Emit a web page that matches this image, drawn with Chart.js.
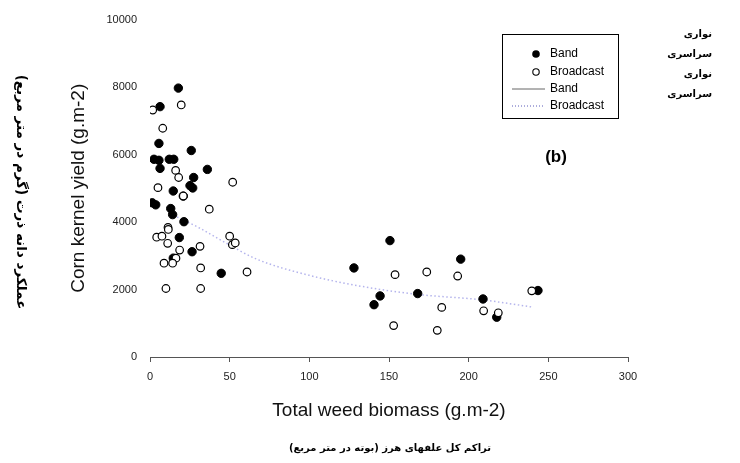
<!DOCTYPE html>
<html>
<head>
<meta charset="utf-8">
<script src="https://cdn.jsdelivr.net/npm/chart.js@4.4.1/dist/chart.umd.min.js"></script>
<style>
  body { margin: 0; background: #fff; }
  #wrap { width: 740px; height: 463px; position: relative; }
</style>
</head>
<body>
<div id="wrap"><canvas id="myChart" width="740" height="463"></canvas></div>
<script>
// Band (filled) - weed biomass / kernel yield
const bandX = [17.8, 6.3, 5.6, 25.9, 2.5, 5.6, 12.1, 14.9, 6.3, 36.0, 27.4, 25.1, 26.8, 14.6, 20.9, 1.4, 3.6, 13.0, 14.2, 21.3, 18.4, 26.4, 14.6, 44.7,
  128, 150.6, 195.0, 144.4, 140.6, 168.0, 209.0, 217.6, 243.5]
const bandY = [7970, 7420, 6330, 6120, 5860, 5830, 5860, 5860, 5590, 5560, 5320, 5080, 5010, 4920, 4770, 4570, 4510, 4400, 4220, 4010, 3540, 3120, 2930, 2480,
  2640, 3450, 2900, 1810, 1550, 1880, 1720, 1180, 1970]

// Broadcast (open)
const broadX = [1.7, 19.6, 8.0, 16.1, 18.0, 51.9, 5.0, 20.9, 37.2, 11.3, 11.5, 4.2, 7.5, 11.1, 50.0, 51.7, 53.5, 18.6, 31.4, 16.3, 8.8, 14.2, 31.8, 60.9, 10.0, 31.8,
  153.8, 173.7, 193.1, 183.1, 209.4, 218.6, 239.6, 152.9, 180.3]
const broadY = [7320, 7470, 6780, 5530, 5320, 5180, 5020, 4770, 4380, 3840, 3780, 3550, 3580, 3370, 3580, 3330, 3380, 3170, 3280, 2930, 2780, 2780, 2640, 2520, 2030, 2030,
  2440, 2520, 2400, 1470, 1370, 1310, 1960, 930, 790]

// fitted curve for broadcast
const fitX = [17, 30, 45, 67, 100, 132, 167, 209, 240]
const fitY = [4150, 3850, 3450, 2900, 2420, 2100, 1860, 1690, 1480]
// band fit line: not visible in the plot area, only in the legend
const bandFitX = []
const bandFitY = []

const xTicks = [0, 50, 100, 150, 200, 250, 300]
const yTicks = [0, 2000, 4000, 6000, 8000, 10000]

function toPts(xs, ys) {
  return xs.map((x, i) => ({ x: x, y: ys[i] }))
}

Chart.defaults.font.family = "'Liberation Sans', Arial, sans-serif"
Chart.defaults.color = '#222'

// legend box + persian texts
const extras = {
  id: 'extras',
  afterDraw(chart) {
    const ctx = chart.ctx
    ctx.save()
    // legend
    ctx.strokeStyle = '#000'
    ctx.lineWidth = 1
    ctx.strokeRect(502.5, 34.5, 116, 84)
    ctx.font = "12px 'Liberation Sans', Arial, sans-serif"
    ctx.fillStyle = '#000'
    ctx.textBaseline = 'middle'
    ctx.textAlign = 'left'
    const rows = [54, 72, 89, 106]
    ctx.beginPath(); ctx.arc(536, rows[0], 3.8, 0, Math.PI * 2); ctx.fill()
    ctx.beginPath(); ctx.arc(536, rows[1], 3.2, 0, Math.PI * 2); ctx.lineWidth = 1.1; ctx.stroke()
    ctx.beginPath(); ctx.moveTo(512, rows[2]); ctx.lineTo(545, rows[2]); ctx.strokeStyle = '#666'; ctx.lineWidth = 1; ctx.stroke()
    ctx.beginPath(); ctx.setLineDash([1, 2]); ctx.moveTo(512, rows[3]); ctx.lineTo(545, rows[3]); ctx.strokeStyle = '#5a5ab8'; ctx.stroke()
    ctx.setLineDash([])
    const names = ['Band', 'Broadcast', 'Band', 'Broadcast']
    names.forEach((n, i) => ctx.fillText(n, 550, rows[i]))

    // (b)
    ctx.font = "bold 17px 'Liberation Sans', Arial, sans-serif"
    ctx.textAlign = 'center'
    ctx.fillText('(b)', 556, 157)

    // persian legend labels on the right
    ctx.font = "bold 10px 'DejaVu Sans', sans-serif"
    ctx.textAlign = 'right'
    const faNames = ['نواری', 'سراسری', 'نواری', 'سراسری']
    const faRows = [34, 54, 74, 94]
    faNames.forEach((n, i) => ctx.fillText(n, 712, faRows[i]))

    // persian x title
    ctx.textAlign = 'center'
    ctx.fillText('تراکم کل علفهای هرز (بوته در متر مربع)', 390, 448)

    // persian y title
    ctx.font = "bold 13.5px 'DejaVu Sans', sans-serif"
    ctx.translate(20, 192)
    ctx.rotate(Math.PI / 2)
    ctx.fillText('عملکرد دانه ذرت (گرم در متر مربع)', 0, 0)
    ctx.restore()
  }
}

const config = {
  type: 'scatter',
  data: {
    datasets: [
      {
        label: 'Broadcast',
        data: toPts(broadX, broadY),
        pointRadius: 3.8,
        pointBackgroundColor: '#fff',
        pointBorderColor: '#000',
        pointBorderWidth: 1.2,
        order: 0
      },
      {
        label: 'Band',
        data: toPts(bandX, bandY),
        pointRadius: 4.2,
        pointBackgroundColor: '#000',
        pointBorderColor: '#000',
        pointBorderWidth: 1,
        order: 1
      },
      {
        type: 'line',
        label: 'Broadcast fit',
        data: toPts(fitX, fitY),
        borderColor: '#b4b4ec',
        borderWidth: 1.5,
        borderDash: [1.5, 2.5],
        pointRadius: 0,
        cubicInterpolationMode: 'monotone',
        fill: false,
        order: 2
      },
      {
        type: 'line',
        label: 'Band fit',
        data: toPts(bandFitX, bandFitY),
        borderColor: '#666',
        borderWidth: 1,
        pointRadius: 0,
        fill: false,
        order: 3
      }
    ]
  },
  options: {
    responsive: false,
    animation: false,
    devicePixelRatio: 1,
    layout: { padding: { top: 15, right: 112, left: 0, bottom: 0 } },
    plugins: { legend: { display: false }, tooltip: { enabled: false } },
    scales: {
      x: {
        type: 'linear',
        min: 0,
        max: 300,
        afterBuildTicks: s => { s.ticks = xTicks.map(v => ({ value: v })) },
        ticks: { padding: 8, font: { size: 11 }, color: '#222', maxRotation: 0, callback: v => String(v) },
        grid: { display: true, drawOnChartArea: false, drawTicks: true, tickLength: 5, color: '#555' },
        border: { display: true, color: '#555', width: 1 },
        title: { display: true, text: 'Total weed biomass (g.m-2)', font: { size: 19 }, color: '#111', padding: { top: 0, bottom: 41 } },
        afterFit: s => { s.height = 106 }
      },
      y: {
        min: 0,
        max: 10000,
        afterBuildTicks: s => { s.ticks = yTicks.map(v => ({ value: v })) },
        ticks: { padding: 13, font: { size: 11 }, color: '#222', callback: v => String(v) },
        grid: { display: false, drawTicks: false },
        border: { display: false },
        title: { display: true, text: 'Corn kernel yield (g.m-2)', font: { size: 19 }, color: '#111', padding: { top: 67, bottom: 0 } },
        afterFit: s => { s.width = 150 }
      }
    }
  },
  plugins: [extras]
}

const myChart = new Chart(document.getElementById('myChart'), config)
</script>
</body>
</html>
